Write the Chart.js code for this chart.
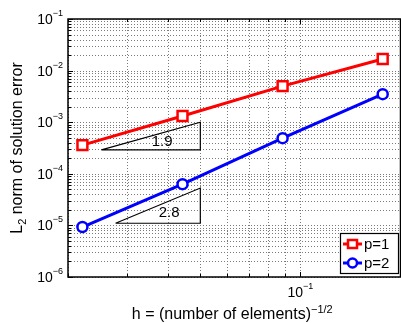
<!DOCTYPE html>
<html>
<head>
<meta charset="utf-8">
<script src="https://cdn.jsdelivr.net/npm/chart.js@4.4.1/dist/chart.umd.min.js"></script>
<style>
html, body { margin: 0; padding: 0; background: #fff; overflow: hidden; }
#wrap { width: 410px; height: 323px; }
</style>
</head>
<body>
<div id="wrap"><canvas id="myCanvas" width="410" height="323"></canvas></div>
<script>
// h values (1/sqrt(number of elements))
var H_VALUES = [0.0221, 0.0442, 0.0884, 0.1768];
var ERR_P1 = [3.6e-4, 1.32e-3, 5.0e-3, 1.68e-2];
var ERR_P2 = [9.3e-6, 6.3e-5, 4.9e-4, 3.5e-3];
var SERIES_LABELS = ['p=1', 'p=2'];

// slope triangles
var TRI1_X = [0.0252, 0.05, 0.05, 0.0252];
var TRI1_Y = [2.9e-4, 2.9e-4, 1.0e-3, 2.9e-4];
var TRI2_X = [0.0278, 0.05, 0.05, 0.0278];
var TRI2_Y = [1.1e-5, 1.1e-5, 5.3e-5, 1.1e-5];
var SLOPE_LABELS = ['1.9', '2.8'];
var SLOPE_POS_X = [0.0384, 0.0403];
var SLOPE_POS_Y = [4.13e-4, 1.74e-5];

// axes
var X_MIN = 0.02, X_MAX = 0.2;
var Y_DECADES = [-6, -5, -4, -3, -2, -1];
var X_DECADES = [-1];

var FONT = '"Liberation Sans", Arial, sans-serif';

function pts(xs, ys){
	var out = [];
	for (var i = 0; i < xs.length; i++) out.push({x: xs[i], y: ys[i]});
	return out;
}

function gridValues(lo, hi){
	var v = [];
	for (var e = Math.floor(Math.log10(lo)); e <= Math.ceil(Math.log10(hi)); e++){
		for (var m = 1; m < 10; m++){
			var val = m * Math.pow(10, e);
			if (val >= lo * 0.9999 && val <= hi * 1.0001) v.push(val);
		}
	}
	return v;
}

function isDecade(v){
	return Math.abs(Math.log10(v) - Math.round(Math.log10(v))) < 1e-6;
}

// draw runs of text like "10" + superscript
function drawRuns(ctx, runs, x, y, align){
	var total = 0;
	runs.forEach(function(r){ ctx.font = r.size + 'px ' + FONT; r.w = ctx.measureText(r.t).width; total += r.w; });
	var cx = align == 'right' ? x - total : (align == 'center' ? x - total/2 : x);
	ctx.textAlign = 'left';
	ctx.textBaseline = 'alphabetic';
	runs.forEach(function(r){
		ctx.font = r.size + 'px ' + FONT;
		ctx.fillText(r.t, cx, y + r.dy);
		cx += r.w;
	});
}

var decorPlugin = {
	id: 'decor',
	beforeDatasetsDraw: function(chart){
		// dotted grid, matlab style
		var ctx = chart.ctx, a = chart.chartArea;
		var xs = chart.scales.x, ys = chart.scales.y;
		ctx.save();
		ctx.strokeStyle = '#7a7a7a';
		ctx.lineWidth = 1;
		ctx.setLineDash([1, 2]);
		gridValues(ys.min, ys.max).forEach(function(v){
			var py = Math.round(ys.getPixelForValue(v)) + 0.5;
			ctx.beginPath(); ctx.moveTo(a.left, py); ctx.lineTo(a.right, py); ctx.stroke();
		});
		gridValues(xs.min, xs.max).forEach(function(v){
			var px = Math.round(xs.getPixelForValue(v)) + 0.5;
			ctx.beginPath(); ctx.moveTo(px, a.bottom); ctx.lineTo(px, a.top); ctx.stroke();
		});
		ctx.restore();
	},
	afterDraw: function(chart){
		var ctx = chart.ctx, a = chart.chartArea;
		var xs = chart.scales.x, ys = chart.scales.y;
		ctx.save();
		ctx.fillStyle = '#000';
		ctx.strokeStyle = '#000';
		// inner tick marks
		ctx.lineWidth = 1;
		gridValues(ys.min, ys.max).forEach(function(v){
			var py = Math.round(ys.getPixelForValue(v)) + 0.5;
			var len = isDecade(v) ? 5 : 3;
			ctx.beginPath(); ctx.moveTo(a.left, py); ctx.lineTo(a.left + len, py); ctx.stroke();
		});
		gridValues(xs.min, xs.max).forEach(function(v){
			var px = Math.round(xs.getPixelForValue(v)) + 0.5;
			var len = isDecade(v) ? 5 : 3;
			ctx.beginPath(); ctx.moveTo(px, a.bottom); ctx.lineTo(px, a.bottom - len); ctx.stroke();
			ctx.beginPath(); ctx.moveTo(px, a.top); ctx.lineTo(px, a.top + len); ctx.stroke();
		});
		// box
		ctx.lineWidth = 1.5;
		ctx.strokeRect(a.left, a.top, a.right - a.left, a.bottom - a.top);
		// y tick labels
		Y_DECADES.forEach(function(e){
			var py = ys.getPixelForValue(Math.pow(10, e));
			drawRuns(ctx, [{t: '10', size: 14, dy: 5}, {t: '\u2212' + (-e), size: 9, dy: -3}], a.left - 5, py, 'right');
		});
		// x tick labels
		X_DECADES.forEach(function(e){
			var px = xs.getPixelForValue(Math.pow(10, e));
			drawRuns(ctx, [{t: '10', size: 14, dy: 0}, {t: '\u2212' + (-e), size: 9, dy: -8}], px, a.bottom + 20, 'center');
		});
		// slope labels
		ctx.font = '15px ' + FONT;
		ctx.textAlign = 'center';
		ctx.textBaseline = 'middle';
		for (var i = 0; i < SLOPE_LABELS.length; i++){
			ctx.fillText(SLOPE_LABELS[i], xs.getPixelForValue(SLOPE_POS_X[i]), ys.getPixelForValue(SLOPE_POS_Y[i]));
		}
		// x title
		drawRuns(ctx, [{t: 'h = (number of elements)', size: 16, dy: 0}, {t: '\u22121/2', size: 11, dy: -6}],
			(a.left + a.right) / 2 - 2, 319, 'center');
		// y title
		ctx.save();
		ctx.translate(22, (a.top + a.bottom) / 2);
		ctx.rotate(-Math.PI / 2);
		drawRuns(ctx, [{t: 'L', size: 16, dy: 0}, {t: '2', size: 11, dy: 4}, {t: ' norm of solution error', size: 16, dy: 0}], 0, 0, 'center');
		ctx.restore();
		// legend
		var lx = 340, ly = 233, lw = 58, lh = 40;
		ctx.fillStyle = '#fff';
		ctx.fillRect(lx, ly, lw, lh);
		ctx.lineWidth = 1.2;
		ctx.strokeStyle = '#000';
		ctx.strokeRect(lx + 0.5, ly + 0.5, lw, lh);
		for (var k = 0; k < 2; k++){
			var ds = chart.data.datasets[k];
			var yy = ly + 11 + k * 19;
			ctx.strokeStyle = ds.borderColor;
			ctx.lineWidth = 3;
			ctx.beginPath(); ctx.moveTo(lx + 3, yy); ctx.lineTo(lx + 22, yy); ctx.stroke();
			ctx.lineWidth = 2.5;
			ctx.fillStyle = '#fff';
			if (ds.pointStyle == 'rect'){
				ctx.fillRect(lx + 8, yy - 4, 9, 8);
				ctx.strokeRect(lx + 8, yy - 4, 9, 8);
			} else {
				ctx.beginPath(); ctx.arc(lx + 12.5, yy, 4.5, 0, Math.PI * 2); ctx.fill(); ctx.stroke();
			}
			ctx.fillStyle = '#000';
			ctx.font = '15px ' + FONT;
			ctx.textAlign = 'left';
			ctx.textBaseline = 'middle';
			ctx.fillText(SERIES_LABELS[k], lx + 24, yy + 1);
		}
		ctx.restore();
	}
};

var chart_config = {
	type: 'line',
	data: {
		datasets: [{
			label: SERIES_LABELS[0],
			data: pts(H_VALUES, ERR_P1),
			borderColor: '#ff0000',
			backgroundColor: '#ffffff',
			borderWidth: 3,
			pointStyle: 'rect',
			pointRadius: 7,
			pointBorderWidth: 2.5,
			order: 1
		}, {
			label: SERIES_LABELS[1],
			data: pts(H_VALUES, ERR_P2),
			borderColor: '#0000ff',
			backgroundColor: '#ffffff',
			borderWidth: 3,
			pointStyle: 'circle',
			pointRadius: 5,
			pointBorderWidth: 2.5,
			order: 2
		}, {
			label: 'tri1',
			data: pts(TRI1_X, TRI1_Y),
			borderColor: '#000',
			borderWidth: 1.2,
			pointRadius: 0,
			order: 3
		}, {
			label: 'tri2',
			data: pts(TRI2_X, TRI2_Y),
			borderColor: '#000',
			borderWidth: 1.2,
			pointRadius: 0,
			order: 4
		}]
	},
	options: {
		responsive: false,
		animation: false,
		layout: { padding: { left: 68, top: 19, bottom: 46, right: 7 } },
		plugins: { legend: { display: false }, tooltip: { enabled: false } },
		scales: {
			x: {
				type: 'logarithmic',
				min: X_MIN, max: X_MAX,
				border: { display: false },
				grid: { display: false, drawTicks: false },
				ticks: { display: false }
			},
			y: {
				type: 'logarithmic',
				min: Math.pow(10, Y_DECADES[0]), max: Math.pow(10, Y_DECADES[Y_DECADES.length - 1]),
				border: { display: false },
				grid: { display: false, drawTicks: false },
				ticks: { display: false }
			}
		}
	},
	plugins: [decorPlugin]
};

var ctx = document.getElementById('myCanvas').getContext('2d');
var chart = new Chart(ctx, chart_config);
</script>
</body>
</html>
